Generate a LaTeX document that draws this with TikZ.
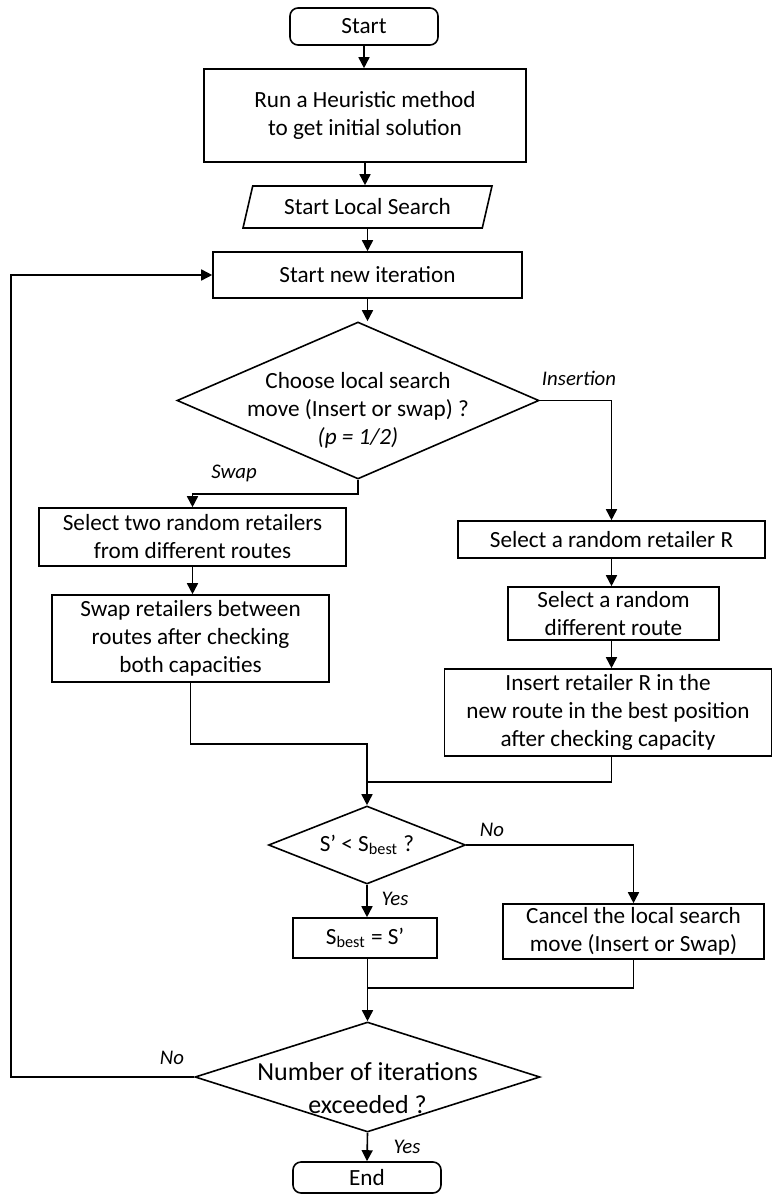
\documentclass[tikz,border=0pt]{standalone}
\usepackage{fontspec}
\setmainfont{Carlito}
\usetikzlibrary{shapes.geometric,arrows.meta,calc}
\begin{document}
\begin{tikzpicture}[x=0.5pt,y=-0.5pt,
  every node/.style={font=\fontsize{11.6pt}{14pt}\selectfont, align=center, inner sep=0.5pt},
  box/.style={draw, line width=0.8pt, rectangle},
  term/.style={box, rounded corners=4pt},
  dec/.style={draw, line width=0.8pt, diamond, inner sep=0pt},
  lbl/.style={font=\fontsize{10.4pt}{12pt}\selectfont\itshape},
  line/.style={line width=0.8pt},
  arr/.style={line, -{Triangle[length=5.5pt,width=5.5pt]}}]
\useasboundingbox (0,0) rectangle (773,1194);

\node[term, minimum width=74pt, minimum height=18.5pt] (start) at (364,26.5) {Start};
\node[box, minimum width=161pt, minimum height=46.5pt] (run) at (365,115.5) {Run a Heuristic method\\to get initial solution};
\node[draw, line width=0.8pt, trapezium, trapezium left angle=62, trapezium right angle=118, trapezium stretches body, minimum width=124.5pt, minimum height=21pt] (ls) at (367.5,207) {Start Local Search};
\node[box, minimum width=154.5pt, minimum height=23pt] (sni) at (367.5,275) {Start new iteration};
\node[dec, minimum width=181pt, minimum height=78.5pt,
  label={[yshift=-5pt]center:{Choose local search\\move (Insert or swap) ?\\\textit{(p = 1/2)}}}] (d1) at (358,400.5) {};
\node[box, minimum width=153.5pt, minimum height=29pt] (sel2) at (192.5,537) {Select two random retailers\\from different routes};
\node[box, minimum width=138.5pt, minimum height=43.5pt] (swapr) at (190.5,638.5) {Swap retailers between\\routes after checking\\both capacities};
\node[box, minimum width=153.5pt, minimum height=18.5pt] (selR) at (611.5,539.5) {Select a random retailer R};
\node[box, minimum width=105.5pt, minimum height=26.5pt] (selroute) at (613.5,613.5) {Select a random\\different route};
\node[box, minimum width=163.5pt, minimum height=43.5pt] (insR) at (608,712.5) {Insert retailer R in the\\new route in the best position\\after checking capacity};
\node[dec, minimum width=98.5pt, minimum height=39pt,
  label={center:{S’ < S\textsubscript{best} ?}}] (d2) at (367,845) {};
\node[box, minimum width=72pt, minimum height=20pt] (sbest) at (365,938) {S\textsubscript{best} = S’};
\node[box, minimum width=130.5pt, minimum height=27.5pt] (cancel) at (633.5,931.5) {Cancel the local search\\move (Insert or Swap)};
\node[dec, minimum width=172.5pt, minimum height=55pt,
  label={[yshift=-5.5pt, font=\fontsize{13pt}{16.5pt}\selectfont]center:{Number of iterations\\exceeded ?}}] (d3) at (367.5,1077) {};
\node[term, minimum width=74pt, minimum height=15.5pt] (end) at (367,1177.5) {End};

\node[lbl] (linsert) at (579,378) {Insertion};
\node[lbl] (lswap) at (234,473) {Swap};
\node[lbl] (lno1) at (492,830) {No};
\node[lbl] (lyes1) at (395,899) {Yes};
\node[lbl] (lno2) at (172,1058) {No};
\node[lbl] (lyes2) at (407,1147) {Yes};

\coordinate (j1) at (367,744);
\coordinate (j2) at (367,782);
\coordinate (j3) at (367,988);
\coordinate (lp) at (11,1077);

\draw[arr] (start.south) -- (start.south |- run.north);
\draw[arr] (run.south) -- (run.south |- ls.north);
\draw[arr] (ls.south) -- (ls.south |- sni.north);
\draw[arr] (sni.south) -- (sni.south |- d1.north);
\draw[arr] (d1.south) -- ++(0,14) -| (sel2.north);
\draw[arr] (d1.east) -| (selR.north);
\draw[arr] (sel2.south) -- (sel2.south |- swapr.north);
\draw[arr] (selR.south) -- (selR.south |- selroute.north);
\draw[arr] (selR.south |- selroute.south) -- (selR.south |- insR.north);
\draw[arr] (swapr.south) |- (j1) -- (d2.north);
\draw[line] (selR.south |- insR.south) |- (j2);
\draw[arr] (d2.south) -- (d2.south |- sbest.north);
\draw[arr] (d2.east) -| (cancel.north);
\draw[arr] (d3.north |- sbest.south) -- (d3.north);
\draw[line] (cancel.south) |- (j3);
\draw[arr] (d3.south) -- (end.north);
\draw[arr] (d3.west) -- (lp) |- (sni.west);
\end{tikzpicture}
\end{document}
